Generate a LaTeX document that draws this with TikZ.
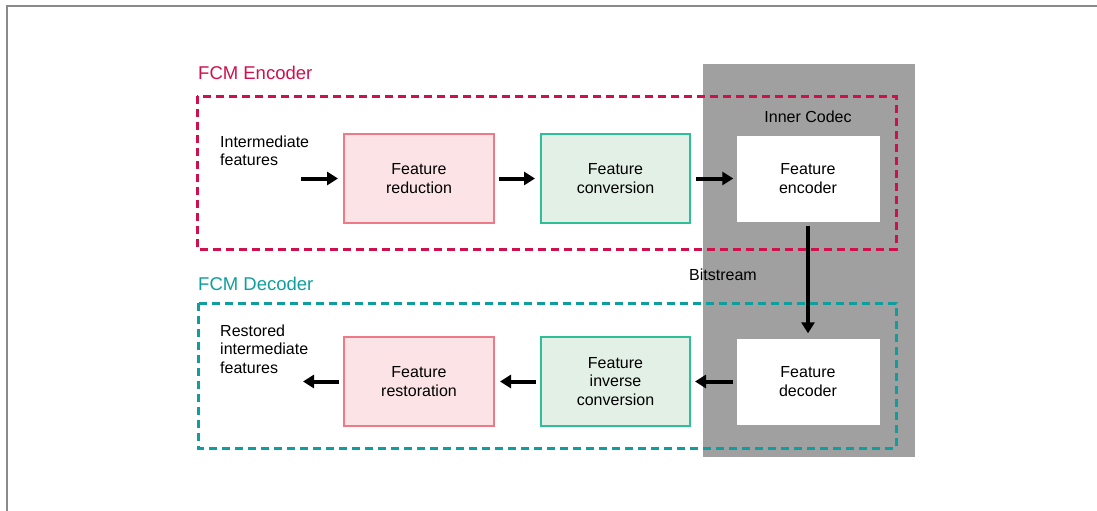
\documentclass[tikz,border=0pt]{standalone}
\usepackage{fontspec}
\setmainfont{Liberation Sans}
\usetikzlibrary{arrows.meta}
\definecolor{enccol}{HTML}{D0104C}
\definecolor{deccol}{HTML}{0E9E9E}
\definecolor{pinkfill}{HTML}{FCE4E6}
\definecolor{pinkline}{HTML}{EE7A87}
\definecolor{greenfill}{HTML}{E2F0E6}
\definecolor{greenline}{HTML}{2EBF99}
\definecolor{codecgray}{HTML}{A0A0A0}
\definecolor{framegray}{HTML}{8A8A8A}
\begin{document}
\begin{tikzpicture}[x=1pt,y=-1pt]
  \tikzstyle{redbox} = [rectangle, draw=pinkline, fill=pinkfill, line width=2pt, minimum width=150pt, minimum height=89pt, align=center, font=\fontsize{16}{18.5}\selectfont]
  \tikzstyle{greenbox} = [rectangle, draw=greenline, fill=greenfill, line width=2pt, minimum width=149pt, minimum height=89pt, align=center, font=\fontsize{16}{18.5}\selectfont]
  \tikzstyle{codecbox} = [rectangle, fill=white, minimum width=143pt, minimum height=86pt, align=center, font=\fontsize{16}{18.5}\selectfont]
  \tikzstyle{plain} = [align=left, inner sep=0pt, font=\fontsize{16}{18.5}\selectfont]
  \tikzstyle{group} = [dash pattern=on 8pt off 5pt, line width=3pt]
  \tikzstyle{arrow} = [line width=4pt, -{Triangle[length=11pt,width=13pt]}]

  \useasboundingbox (0,0) rectangle (1097,511);
  \draw [framegray, line width=2pt] (6.5,511) -- (6.5,6.5) -- (1097,6.5);

  % Inner codec background
  \fill [codecgray] (703,64) rectangle (915,457);

  % Encoder and decoder groups
  \draw [group, enccol] (197,96) rectangle (896,249);
  \draw [group, deccol] (198,303) rectangle (896,448);
  \node [anchor=west, inner sep=0pt, enccol, font=\fontsize{18.5}{20}\selectfont] (enclabel) at (198,73) {FCM Encoder};
  \node [anchor=west, inner sep=0pt, deccol, font=\fontsize{18.5}{20}\selectfont] (declabel) at (198,284) {FCM Decoder};

  % Encoder row
  \node [plain, anchor=west] (infeat) at (220,151) {Intermediate\\features};
  \node [redbox] (reduce) at (419,178.5) {Feature\\reduction};
  \node [greenbox] (conv) at (615.5,178.5) {Feature\\conversion};
  \node [codecbox] (enc) at (808,178.5) {Feature\\encoder};
  \node [font=\fontsize{16}{18.5}\selectfont] (inner) at (808,117) {Inner Codec};

  % Decoder row
  \node [plain, anchor=west] (outfeat) at (220,349) {Restored\\intermediate\\features};
  \node [redbox] (restore) at (419,381.5) {Feature\\restoration};
  \node [greenbox] (invconv) at (615.5,381.5) {Feature\\inverse\\conversion};
  \node [codecbox] (dec) at (808,381.5) {Feature\\decoder};
  \node [font=\fontsize{16}{18.5}\selectfont] (bits) at (723,275) {Bitstream};

  % Arrows
  \coordinate (instart) at (301,178.5);
  \coordinate (outend) at (303,381.5);
  \draw [arrow, shorten >=5pt] (instart) -- (reduce);
  \draw [arrow, shorten <=4pt, shorten >=5pt] (reduce) -- (conv);
  \draw [arrow, shorten <=5pt, shorten >=3pt] (conv) -- (enc);
  \draw [arrow, shorten <=4pt, shorten >=5pt] (enc) -- (dec);
  \draw [arrow, shorten <=3pt, shorten >=4pt] (dec) -- (invconv);
  \draw [arrow, shorten <=4pt, shorten >=5pt] (invconv) -- (restore);
  \draw [arrow, shorten <=4pt] (restore) -- (outend);
\end{tikzpicture}
\end{document}
